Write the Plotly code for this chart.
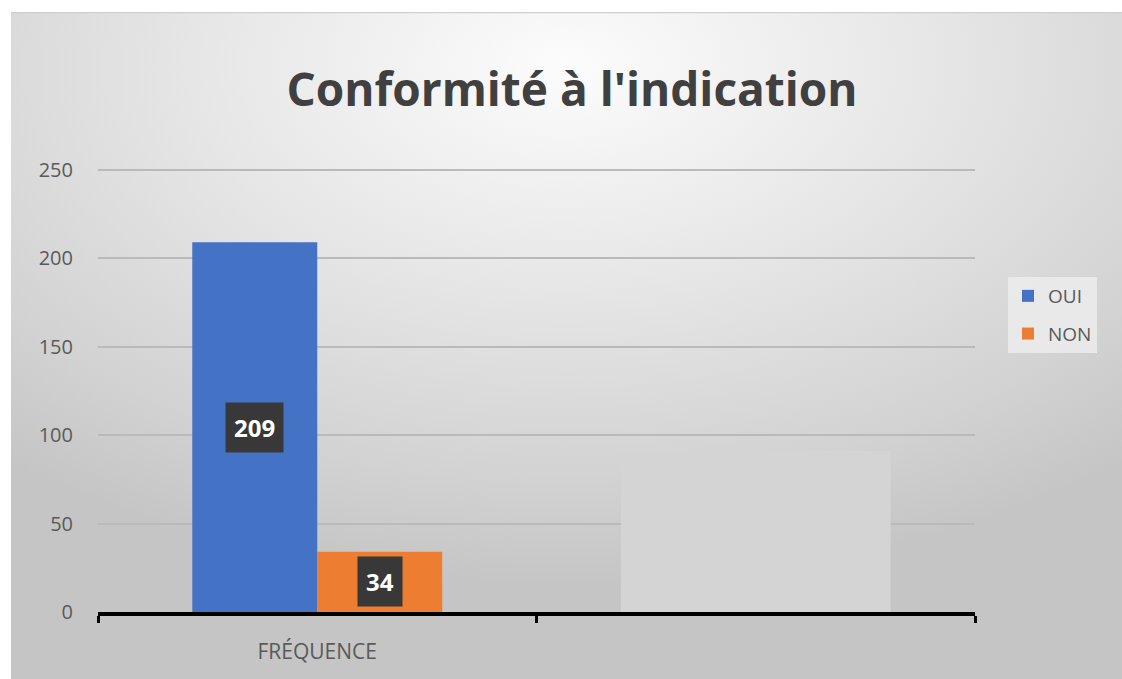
import base64
import plotly.graph_objects as go

# Chart data
categories = ["FRÉQUENCE", " "]
series_names = ["OUI", "NON"]
oui_values = [209]
non_values = [34]
masked_values = [91]          # light grey block in the second category
y_ticks = [0, 50, 100, 150, 200, 250]

W, H = 1122, 679
ML, MR, MT, MB = 98, 147, 168, 67
PW, PH = W - ML - MR, H - MT - MB
Y_MAX = 251

BLUE, ORANGE, MASK = "#4472C4", "#ED7D31", "#d4d4d4"
FONT = "Open Sans"

# Bar geometry (category units)
BAR_W = 0.285
MASK_W = 0.615

fig = go.Figure()
fig.add_trace(go.Bar(name=series_names[0], x=categories[:1], y=oui_values,
                     marker=dict(color=BLUE, line=dict(width=0)),
                     width=BAR_W, offset=-BAR_W, legendgroup="a",
                     hoverinfo="x+y+name"))
fig.add_trace(go.Bar(name=series_names[1], x=categories[:1], y=non_values,
                     marker=dict(color=ORANGE, line=dict(width=0)),
                     width=BAR_W, offset=0, legendgroup="b",
                     hoverinfo="x+y+name"))
fig.add_trace(go.Bar(name="", x=categories[1:], y=masked_values,
                     marker=dict(color=MASK, line=dict(width=0)),
                     width=MASK_W, offset=-MASK_W / 2, showlegend=False,
                     hoverinfo="skip"))

# Value labels in dark boxes at the middle of each bar
for val, centre in ((oui_values[0], -BAR_W / 2), (non_values[0], BAR_W / 2)):
    fig.add_annotation(x=0 + centre, y=val / 2, xref="x", yref="y",
                       text=f"<b>{val}</b>", showarrow=False,
                       font=dict(family=FONT, size=24, color="white"),
                       bgcolor="#383838", borderpad=8)

# Soft grey radial background of the chart area
svg = (
    '<svg xmlns="http://www.w3.org/2000/svg" width="1111" height="667" '
    'viewBox="0 0 1111 667" preserveAspectRatio="none">'
    '<defs><radialGradient id="g" cx="0.5" cy="0.08" r="0.78">'
    '<stop offset="0" stop-color="#fcfcfc"/>'
    '<stop offset="0.45" stop-color="#e5e5e5"/>'
    '<stop offset="0.8" stop-color="#d2d2d2"/>'
    '<stop offset="1" stop-color="#c5c5c5"/>'
    '</radialGradient></defs>'
    '<rect x="0" y="0" width="1111" height="667" fill="url(#g)"/>'
    '<line x1="0" y1="0.5" x2="1111" y2="0.5" stroke="#cfcfcf" stroke-width="1.5"/>'
    '</svg>'
)
bg_src = "data:image/svg+xml;base64," + base64.b64encode(svg.encode()).decode()
bg_left, bg_top = 11, 12
fig.add_layout_image(
    source=bg_src, xref="paper", yref="paper",
    x=(bg_left - ML) / PW, y=(H - MB - bg_top) / PH,
    sizex=(W - bg_left) / PW, sizey=(H - bg_top) / PH,
    xanchor="left", yanchor="top", sizing="stretch", layer="below",
)

fig.update_layout(
    width=W, height=H,
    margin=dict(l=ML, r=MR, t=MT, b=MB, pad=0),
    paper_bgcolor="white",
    plot_bgcolor="rgba(0,0,0,0)",
    barmode="overlay",
    title=dict(text="<b>Conformité à l'indication</b>",
               x=572 / W, xanchor="center", xref="container",
               y=1 - 90 / H, yanchor="middle",
               font=dict(family=FONT, size=46, color="#404040")),
    legend=dict(x=(1008 - ML) / PW, xanchor="left",
                y=(H - MB - 315) / PH, yanchor="middle",
                bgcolor="rgba(236,236,236,0.85)", borderwidth=0,
                font=dict(family=FONT, size=19, color="#595959"),
                tracegroupgap=10, itemwidth=30),
    showlegend=True,
)

fig.update_xaxes(
    type="category", categoryorder="array", categoryarray=categories,
    range=[-0.5, 1.5], showgrid=False, zeroline=False,
    showline=True, linecolor="black", linewidth=4,
    ticks="outside", tickson="boundaries", ticklen=7, tickwidth=3,
    tickcolor="black",
    tickfont=dict(family=FONT, size=21, color="#5a5a5a"),
    ticklabelstandoff=18,
    fixedrange=True,
)
fig.update_yaxes(
    range=[0, Y_MAX], tickvals=y_ticks, showgrid=True,
    gridcolor="#bababa", gridwidth=2, zeroline=False, showline=False,
    ticks="", tickfont=dict(family=FONT, size=20, color="#5a5a5a"),
    ticklabelstandoff=24, fixedrange=True,
)

fig.write_html("out.html")
